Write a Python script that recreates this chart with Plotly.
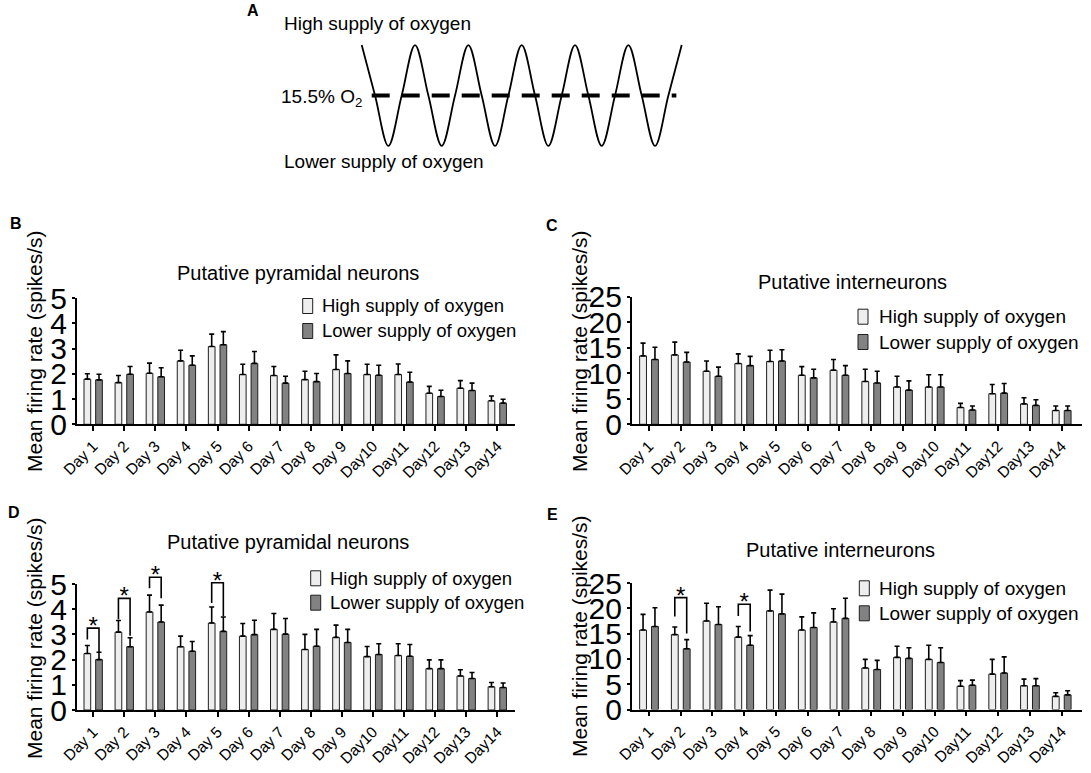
import plotly.graph_objects as go

W, H = 1091, 773
FONT = "Liberation Sans, Arial, Helvetica, sans-serif"

# ---------------- data ----------------
days = ["Day 1", "Day 2", "Day 3", "Day 4", "Day 5", "Day 6", "Day 7", "Day 8",
        "Day 9", "Day10", "Day11", "Day12", "Day13", "Day14"]
series_names = ["High supply of oxygen", "Lower supply of oxygen"]

# Panel B - putative pyramidal neurons
b_high = [1.79, 1.65, 2.02, 2.51, 3.08, 1.97, 1.93, 1.77, 2.17, 1.97, 1.97, 1.23, 1.43, 0.93]
b_high_err = [0.21, 0.28, 0.40, 0.42, 0.49, 0.41, 0.36, 0.33, 0.58, 0.41, 0.42, 0.27, 0.30, 0.19]
b_low = [1.76, 1.98, 1.88, 2.34, 3.15, 2.41, 1.63, 1.69, 2.01, 1.94, 1.67, 1.10, 1.34, 0.84]
b_low_err = [0.22, 0.31, 0.36, 0.37, 0.52, 0.47, 0.27, 0.32, 0.50, 0.40, 0.39, 0.25, 0.29, 0.15]

# Panel C - putative interneurons
c_high = [13.4, 13.6, 10.4, 11.9, 12.3, 9.6, 10.6, 8.4, 7.3, 7.3, 3.3, 6.0, 4.0, 2.7]
c_high_err = [2.5, 2.5, 2.0, 1.9, 2.2, 1.7, 2.1, 2.4, 2.1, 2.4, 0.8, 1.8, 1.2, 0.9]
c_low = [12.7, 12.2, 9.4, 11.5, 12.4, 9.1, 9.6, 8.1, 6.7, 7.3, 2.8, 6.1, 3.7, 2.7]
c_low_err = [2.4, 1.9, 1.8, 1.8, 2.2, 1.7, 1.9, 2.3, 1.8, 2.4, 0.8, 1.9, 1.1, 0.9]

# Panel D - putative pyramidal neurons
d_high = [2.24, 3.09, 3.89, 2.51, 3.45, 2.93, 3.20, 2.40, 2.88, 2.12, 2.16, 1.64, 1.35, 0.92]
d_high_err = [0.32, 0.46, 0.67, 0.42, 0.64, 0.50, 0.63, 0.60, 0.49, 0.40, 0.47, 0.35, 0.25, 0.17]
d_low = [2.00, 2.51, 3.49, 2.33, 3.12, 2.99, 3.01, 2.53, 2.68, 2.20, 2.13, 1.64, 1.25, 0.89]
d_low_err = [0.29, 0.36, 0.67, 0.39, 0.57, 0.57, 0.62, 0.67, 0.52, 0.43, 0.47, 0.35, 0.24, 0.18]

# Panel E - putative interneurons
e_high = [15.7, 14.8, 17.5, 14.3, 19.5, 15.7, 17.3, 8.2, 10.3, 9.9, 4.6, 7.0, 4.7, 2.6]
e_high_err = [3.1, 1.5, 3.5, 2.1, 4.1, 2.6, 2.6, 1.7, 2.2, 2.8, 1.1, 2.9, 1.3, 0.7]
e_low = [16.4, 12.0, 16.8, 12.7, 18.9, 16.2, 18.0, 7.9, 10.1, 9.3, 4.8, 7.2, 4.7, 2.9]
e_low_err = [3.7, 1.8, 3.5, 1.9, 3.9, 2.9, 4.0, 1.8, 2.1, 2.9, 1.0, 3.2, 1.4, 0.8]

# significance brackets (day index, bracket top, left leg end, right leg end)
d_sig_days = [0, 1, 2, 4]
d_sig_top = [3.25, 4.43, 5.27, 5.05]
d_sig_left = [2.80, 3.60, 4.83, 4.25]
d_sig_right = [2.30, 2.95, 4.43, 3.72]
e_sig_days = [1, 3]
e_sig_top = [22.1, 20.8]
e_sig_left = [18.4, 18.5]
e_sig_right = [15.0, 15.4]

# panel A schematic: oxygen level at quarter-period steps, and the mean line
wave_levels = [1, 0, -1, 0, 1, 0, -1, 0, 1, 0, -1, 0, 1, 0, -1, 0, 1, 0, -1, 0, 1, 0, -1, 0, 1]
o2_line_x = [0.75, 23.6]

# ---------------- styling / geometry ----------------
HIGH_FILL = "#eeeeee"
LOW_FILL = "#828282"
EDGE = "#1e1e1e"
BAR_W = 0.215
OFF_H = -0.295
OFF_L = 0.08
CEN_H = OFF_H + BAR_W / 2
CEN_L = OFF_L + BAR_W / 2


def fx(px):
    return px / W


def fy(py):
    return 1 - py / H


panels = {
    1: dict(x0=76.7, x1=515.0, yt=298.0, yb=424.3, xr=[-0.53, 13.57], ymax=5, dt=1),
    2: dict(x0=631.7, x1=1081.7, yt=296.7, yb=424.3, xr=[-0.545, 13.63], ymax=25, dt=5),
    3: dict(x0=76.7, x1=515.0, yt=584.0, yb=710.0, xr=[-0.53, 13.57], ymax=5, dt=1),
    4: dict(x0=631.7, x1=1081.7, yt=583.0, yb=709.5, xr=[-0.545, 13.63], ymax=25, dt=5),
}

fig = go.Figure()
layout_axes = {}
xs = list(range(len(days)))

panel_data = {
    1: (b_high, b_high_err, b_low, b_low_err),
    2: (c_high, c_high_err, c_low, c_low_err),
    3: (d_high, d_high_err, d_low, d_low_err),
    4: (e_high, e_high_err, e_low, e_low_err),
}

for n, g in panels.items():
    xa = "x" if n == 1 else f"x{n}"
    ya = "y" if n == 1 else f"y{n}"
    hi, hie, lo, loe = panel_data[n]
    for vals, errs, off, fill, name in [
        (hi, hie, OFF_H, HIGH_FILL, series_names[0]),
        (lo, loe, OFF_L, LOW_FILL, series_names[1]),
    ]:
        fig.add_trace(go.Bar(
            x=xs, y=vals, width=BAR_W, offset=off, name=name, showlegend=False,
            marker=dict(color=fill, line=dict(color=EDGE, width=1)),
            error_y=dict(type="data", array=errs, arrayminus=[0] * len(errs),
                         symmetric=False, color="black", thickness=1.6, width=2.5),
            xaxis=xa, yaxis=ya,
        ))
    kx = "xaxis" if n == 1 else f"xaxis{n}"
    ky = "yaxis" if n == 1 else f"yaxis{n}"
    layout_axes[kx] = dict(
        domain=[fx(g["x0"]), fx(g["x1"])], range=g["xr"], anchor=ya, automargin=False,
        tickmode="array", tickvals=xs, ticktext=days, tickangle=-45,
        ticks="outside", ticklen=5, tickwidth=1.5, tickcolor="black",
        showline=True, linewidth=1.6, linecolor="black",
        showgrid=False, zeroline=False,
        tickfont=dict(family=FONT, size=15.5, color="black"),
    )
    layout_axes[ky] = dict(
        domain=[fy(g["yb"]), fy(g["yt"])], range=[0, g["ymax"]], anchor=xa, automargin=False,
        tickmode="linear", tick0=0, dtick=g["dt"],
        ticks="outside", ticklen=3, tickwidth=1.5, tickcolor="black",
        ticklabelstandoff=-1,
        showline=True, linewidth=1.6, linecolor="black",
        showgrid=False, zeroline=False,
        tickfont=dict(family=FONT, size=30, color="black"),
    )

# ---- overlay subplot for D brackets (extends above the plot area) ----
gD = panels[3]
ext_top = 534.0
unit_px = (gD["yb"] - gD["yt"]) / gD["ymax"]
layout_axes["xaxis5"] = dict(domain=[fx(gD["x0"]), fx(gD["x1"])], range=gD["xr"],
                             anchor="y5", visible=False, automargin=False)
layout_axes["yaxis5"] = dict(domain=[fy(gD["yb"]), fy(ext_top)],
                             range=[0, (gD["yb"] - ext_top) / unit_px],
                             anchor="x5", visible=False, automargin=False)


def brackets(days_i, tops, lefts, rights, xa, ya):
    bx, by = [], []
    for d, t, l, r in zip(days_i, tops, lefts, rights):
        bx += [d + CEN_H, d + CEN_H, d + CEN_L, d + CEN_L, None]
        by += [l, t, t, r, None]
    fig.add_trace(go.Scatter(x=bx, y=by, mode="lines", line=dict(color="black", width=1.6),
                             showlegend=False, xaxis=xa, yaxis=ya, hoverinfo="skip"))
    fig.add_trace(go.Scatter(x=[d + (CEN_H + CEN_L) / 2 for d in days_i], y=tops,
                             mode="text", text=["*"] * len(days_i), textposition="middle center",
                             textfont=dict(family=FONT, size=24, color="black"),
                             showlegend=False, xaxis=xa, yaxis=ya, cliponaxis=False,
                             hoverinfo="skip"))


brackets(d_sig_days, d_sig_top, d_sig_left, d_sig_right, "x5", "y5")
brackets(e_sig_days, e_sig_top, e_sig_left, e_sig_right, "x4", "y4")

# ---- panel A schematic ----
wave_x = list(range(len(wave_levels)))
layout_axes["xaxis6"] = dict(domain=[fx(357.7), fx(685.7)], range=[-0.3, 24.3],
                             anchor="y6", visible=False, automargin=False)
layout_axes["yaxis6"] = dict(domain=[fy(151), fy(40)], range=[-1.1, 1.1],
                             anchor="x6", visible=False, automargin=False)
fig.add_trace(go.Scatter(x=wave_x, y=wave_levels, mode="lines",
                         line=dict(color="black", width=1.8, shape="spline", smoothing=1.0),
                         showlegend=False, xaxis="x6", yaxis="y6", hoverinfo="skip"))
fig.add_trace(go.Scatter(x=o2_line_x, y=[0, 0], mode="lines",
                         line=dict(color="black", width=4, dash="18px,12px"),
                         showlegend=False, xaxis="x6", yaxis="y6", hoverinfo="skip"))

# ---------------- annotations & manual legends ----------------
ann = []
shapes = []


def text(px, py, s, size, xanchor="left", bold=False, angle=0):
    ann.append(dict(x=fx(px), y=fy(py), xref="paper", yref="paper", text=(f"<b>{s}</b>" if bold else s),
                    showarrow=False, xanchor=xanchor, yanchor="middle", textangle=angle,
                    font=dict(family=FONT, size=size, color="black")))


# panel A
text(253, 11, "A", 16, "center", bold=True)
text(281.7, 23.5, "High supply of oxygen", 19)
text(279, 98, "15.5% O<sub>2</sub>", 19)
text(281.7, 161.5, "Lower supply of oxygen", 19)

# panel letters
text(16, 223, "B", 16, "center", bold=True)
text(552, 225, "C", 16, "center", bold=True)
text(14, 512, "D", 16, "center", bold=True)
text(552, 514, "E", 16, "center", bold=True)

# panel titles
text(298, 273, "Putative pyramidal neurons", 20, "center")
text(852, 282, "Putative interneurons", 20, "center")
text(288, 542, "Putative pyramidal neurons", 20, "center")
text(840, 550, "Putative interneurons", 20, "center")

# y-axis titles
ytitle = "Mean firing rate (spikes/s)"
text(34, 351, ytitle, 21, "center", angle=-90)
text(579, 351, ytitle, 21, "center", angle=-90)
text(34, 638, ytitle, 21, "center", angle=-90)
text(579, 636, ytitle, 21, "center", angle=-90)

# legends: (box left x, text x, row1 y, row2 y, font size)
legend_pos = [
    (302.7, 320.0, 306.0, 331.0, 18.5),
    (858.0, 876.7, 316.7, 342.0, 19),
    (310.7, 328.3, 578.3, 602.7, 18.5),
    (859.3, 876.7, 588.3, 613.3, 19),
]
for bx, tx, r1, r2, fs in legend_pos:
    for ry, fill, name in [(r1, HIGH_FILL, series_names[0]), (r2, LOW_FILL, series_names[1])]:
        shapes.append(dict(type="rect", xref="paper", yref="paper",
                           x0=fx(bx), x1=fx(bx + 10), y0=fy(ry + 7.5), y1=fy(ry - 7.5),
                           fillcolor=fill, line=dict(color=EDGE, width=1)))
        text(tx, ry, name, fs)

fig.update_layout(
    template="none",
    width=W, height=H, margin=dict(l=0, r=0, t=0, b=0, pad=0, autoexpand=False),
    paper_bgcolor="white", plot_bgcolor="rgba(0,0,0,0)",
    barmode="overlay", showlegend=False,
    font=dict(family=FONT, color="black"),
    annotations=ann, shapes=shapes,
    **layout_axes,
)

# remove the browser's default 8px page margin so the figure fills the window
fig.write_html("out.html", config={"displayModeBar": False},
               post_script="document.body.style.margin='0px';document.body.style.overflow='hidden';")
